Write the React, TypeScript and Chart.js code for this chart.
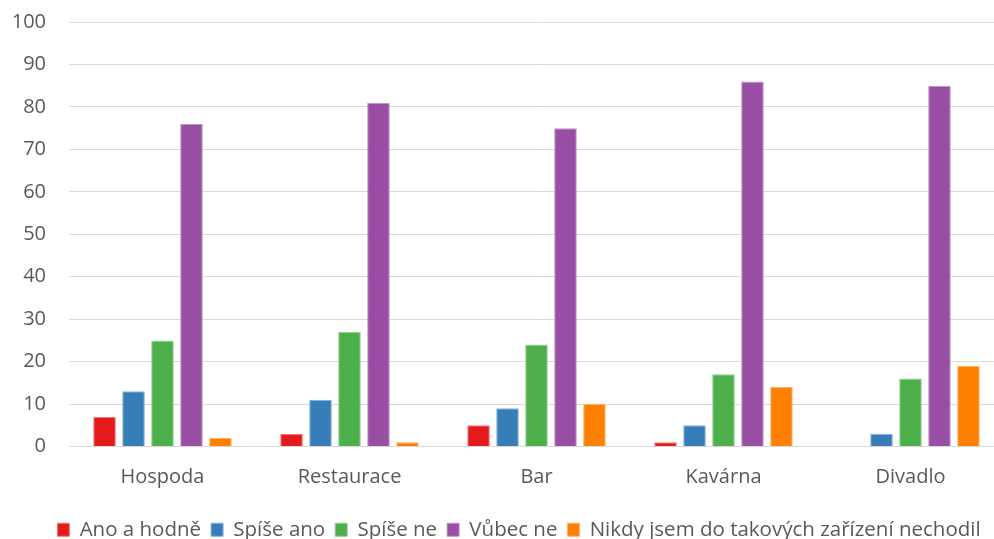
import React, { useEffect, useRef } from "react";
import { Chart, registerables } from "chart.js";

Chart.register(...registerables);

const categories = ["Hospoda", "Restaurace", "Bar", "Kavárna", "Divadlo"];
const seriesNames = [
  "Ano a hodně",
  "Spíše ano",
  "Spíše ne",
  "Vůbec ne",
  "Nikdy jsem do takových zařízení nechodil",
];
const anoAHodne = [7, 3, 5, 1, 0];
const spiseAno = [13, 11, 9, 5, 3];
const spiseNe = [25, 27, 24, 17, 16];
const vubecNe = [76, 81, 75, 86, 85];
const nikdy = [2, 1, 10, 14, 19];
const colors = ["#E41A1C", "#377EB8", "#4DAF4A", "#984EA3", "#FF7F00"];
const borders = ["#F07A7B", "#87B1D6", "#92CF90", "#C195C8", "#FFB266"];
const yTicks = [0, 10, 20, 30, 40, 50, 60, 70, 80, 90, 100];

const FONT = "'Open Sans', 'Noto Sans', sans-serif";

const legendShift = {
  id: "legendShift",
  afterLayout(chart: any) {
    if (chart.legend) {
      chart.legend.left += 17;
      chart.legend.right += 17;
    }
  },
};

export default function App() {
  const ref = useRef<HTMLCanvasElement | null>(null);
  useEffect(() => {
    if (!ref.current) return;
    const values = [anoAHodne, spiseAno, spiseNe, vubecNe, nikdy];
    const chart = new Chart(ref.current, {
      type: "bar",
      data: {
        labels: categories,
        datasets: seriesNames.map((name, i) => ({
          label: name,
          data: values[i],
          backgroundColor: colors[i],
          borderColor: borders[i],
          borderWidth: 1,
          categoryPercentage: 0.775,
          barPercentage: 0.78,
        })),
      },
      plugins: [legendShift],
      options: {
        responsive: false,
        animation: false,
        maintainAspectRatio: false,
        layout: { padding: { top: 22, right: 0, left: 0, bottom: 0 } },
        plugins: {
          tooltip: { enabled: false },
          legend: {
            position: "bottom",
            labels: {
              font: { family: FONT, size: 20.5 },
              color: "#595959",
              boxWidth: 12,
              boxHeight: 13,
              padding: 10,
            },
          },
        },
        scales: {
          x: {
            grid: { display: false, drawTicks: false },
            border: { display: false },
            ticks: {
              font: { family: FONT, size: 20 },
              color: "#595959",
              padding: 19,
            },
            afterFit: (s: any) => {
              s.height = 63;
            },
          },
          y: {
            min: 0,
            max: 100,
            afterBuildTicks: (s: any) => {
              s.ticks = yTicks.map((v) => ({ value: v }));
            },
            grid: { color: "#D9D9D9", lineWidth: 1, drawTicks: false },
            border: { display: false },
            ticks: {
              font: { family: FONT, size: 20 },
              color: "#595959",
              padding: 23,
            },
            afterFit: (s: any) => {
              s.width = 69;
              s.paddingTop = 0;
              s.paddingBottom = 0;
            },
          },
        },
      },
    });
    return () => chart.destroy();
  }, []);
  return (
    <div
      style={{
        position: "fixed",
        left: 0,
        top: 0,
        width: 994,
        height: 539,
        overflow: "hidden",
        background: "#fff",
      }}
    >
      <canvas ref={ref} width={1004} height={550} style={{ display: "block" }} />
    </div>
  );
}
